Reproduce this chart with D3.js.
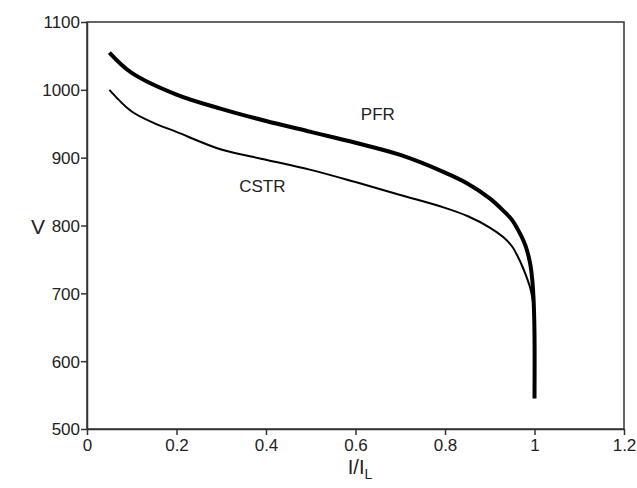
<!DOCTYPE html>
<html>
<meta charset="utf-8">
<style>
  body { margin: 0; background: #fff; }
  .axis text { font: 17px "Liberation Sans", Arial, sans-serif; fill: #222; }
  .axis path, .axis line { stroke: #333; stroke-width: 1.5; }
  .lbl { font: 17px "Liberation Sans", Arial, sans-serif; fill: #222; }
</style>
<script src="https://d3js.org/d3.v7.min.js"></script>
<body>
<script>
var svgWidth = 637, svgHeight = 488;
var margin = {top: 22, right: 13, bottom: 59, left: 87};

// PFR curve (thick)
var pfrI = [0.05, 0.1, 0.2, 0.3, 0.4, 0.5, 0.6, 0.7, 0.8, 0.85, 0.9, 0.93, 0.95, 0.97, 0.98, 0.99, 0.995, 0.998, 1.0, 1.0];
var pfrV = [1055, 1025, 993, 972, 954, 938, 922, 904, 878, 862, 840, 822, 808, 785, 770, 745, 720, 690, 640, 545];
// CSTR curve (thin)
var cstrI = [0.05, 0.1, 0.15, 0.2, 0.3, 0.4, 0.5, 0.6, 0.7, 0.8, 0.85, 0.9, 0.93, 0.95, 0.97, 0.98, 0.99, 0.995, 1.0];
var cstrV = [1000, 968, 951, 938, 912, 897, 882, 864, 845, 826, 814, 797, 783, 769, 744, 728, 709, 694, 670];

var xTicks = [0, 0.2, 0.4, 0.6, 0.8, 1, 1.2];
var yTicks = [500, 600, 700, 800, 900, 1000, 1100];

var w = svgWidth - margin.left - margin.right;
var h = svgHeight - margin.top - margin.bottom;

var svg = d3.select("body").append("svg")
  .attr("width", svgWidth)
  .attr("height", svgHeight);

var g = svg.append("g").attr("transform", "translate(" + margin.left + "," + margin.top + ")");

var x = d3.scaleLinear().domain([0, 1.2]).range([0, w]);
var y = d3.scaleLinear().domain([500, 1100]).range([h, 0]);

// box
g.append("rect").attr("width", w).attr("height", h)
  .attr("fill", "none").attr("stroke", "#333").attr("stroke-width", 1.5);

g.append("g").attr("class", "axis")
  .attr("transform", "translate(0," + h + ")")
  .call(d3.axisBottom(x).tickValues(xTicks).tickSize(6).tickSizeOuter(0).tickPadding(2).tickFormat(d3.format("")))
  .call(function(a) { a.selectAll("text").attr("dy", "0.8em"); });

g.append("g").attr("class", "axis")
  .call(d3.axisLeft(y).tickValues(yTicks).tickSize(6).tickSizeOuter(0).tickPadding(1).tickFormat(d3.format("d")))
  .call(function(a) { a.selectAll("text").attr("dy", "0.35em"); });

var line = d3.line()
  .curve(d3.curveCatmullRom.alpha(0.5))
  .x(function(d) { return x(d[0]); })
  .y(function(d) { return y(d[1]); });

g.append("path")
  .datum(d3.zip(cstrI, cstrV))
  .attr("d", line)
  .attr("fill", "none")
  .attr("stroke", "#000")
  .attr("stroke-width", 2);

g.append("path")
  .datum(d3.zip(pfrI, pfrV))
  .attr("d", line)
  .attr("fill", "none")
  .attr("stroke", "#000")
  .attr("stroke-width", 4)
  .attr("stroke-linejoin", "round");

g.append("text").attr("class", "lbl").attr("x", x(0.612)).attr("y", y(955)).text("PFR");
g.append("text").attr("class", "lbl").attr("x", x(0.34)).attr("y", y(849)).text("CSTR");

// axis titles
svg.append("text").attr("class", "lbl")
  .attr("x", 38).attr("y", 226)
  .attr("text-anchor", "middle")
  .attr("dominant-baseline", "central")
  .style("font-size", "21px")
  .text("V");

var xt = svg.append("text").attr("class", "lbl")
  .attr("x", 360).attr("y", 474)
  .attr("text-anchor", "middle")
  .style("font-size", "20px");
xt.append("tspan").text("I/I");
xt.append("tspan").attr("dy", 5).style("font-size", "14px").text("L");
</script>
</body>
</html>
